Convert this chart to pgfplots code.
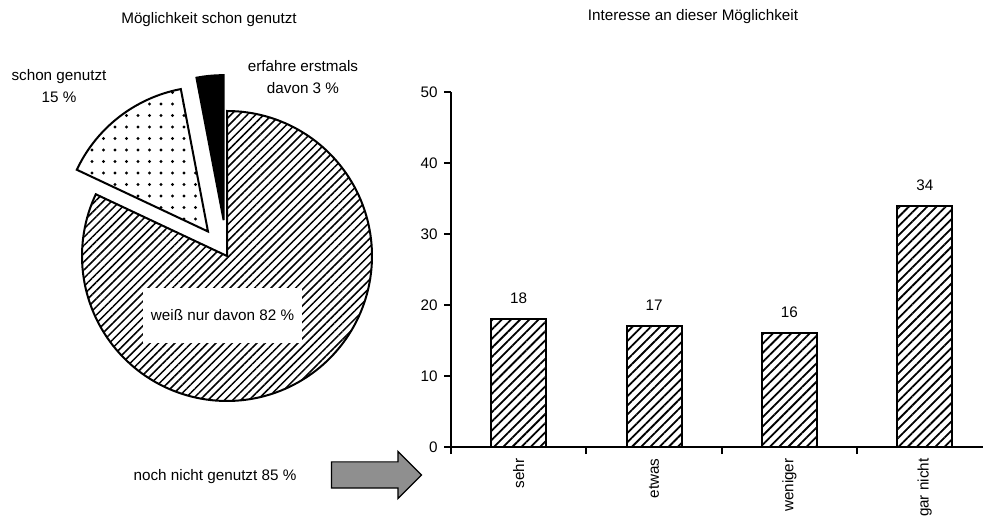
\documentclass[border=0pt]{standalone}
\usepackage{pgfplots}
\pgfplotsset{compat=1.18}
\usepackage{fontspec}
\setmainfont{Liberation Sans}
\usetikzlibrary{patterns.meta,shapes.arrows}
\definecolor{pfeilgrau}{RGB}{143,143,143}
\newcommand{\fs}{\fontsize{15.3}{22}\selectfont}

% Anteile Kreisdiagramm (in %)
\def\weiss{82}
\def\genutzt{15}
\def\erstmals{3}

\begin{document}
\begin{tikzpicture}[font=\fs]
% Winkel der Segmente
\pgfmathsetmacro{\aEnd}{90-3.6*\weiss}
\pgfmathsetmacro{\bEnd}{90+3.6*(\genutzt+\erstmals)}
\pgfmathsetmacro{\cEnd}{90+3.6*\erstmals}
\pgfmathsetmacro{\bMid}{(\bEnd+\cEnd)/2}
\pgfmathsetmacro{\cMid}{(90+\cEnd)/2}
% herausgeruckte Mittelpunkte
\pgfmathsetmacro{\bx}{227+31*cos(\bMid)}
\pgfmathsetmacro{\by}{262+31*sin(\bMid)}
\pgfmathsetmacro{\cx}{227+36*cos(\cMid)}
\pgfmathsetmacro{\cy}{262+36*sin(\cMid)}

% Kreisdiagramm, Koordinaten in Pixeln
\begin{axis}[at={(0,0)}, anchor=south west, scale only axis,
  width=983bp, height=518bp, xmin=0, xmax=983, ymin=0, ymax=518,
  hide axis, clip=false]
\addplot[draw=black, line width=2bp, line join=miter,
  pattern={Lines[angle=45,distance=5.8bp,line width=1.5bp]},
  domain=\aEnd:90, samples=150, variable=\t]
  ({227+145*cos(\t)},{262+145*sin(\t)}) -- (227,262) -- cycle;
\addplot[draw=black, line width=2bp,
  pattern={Dots[distance=11.5bp,radius=1.7bp]},
  domain=\cEnd:\bEnd, samples=40, variable=\t]
  ({\bx+145*cos(\t)},{\by+145*sin(\t)}) -- (\bx,\by) -- cycle;
\addplot[draw=black, line width=2bp, fill=black,
  domain=90:\cEnd, samples=10, variable=\t]
  ({\cx+145*cos(\t)},{\cy+145*sin(\t)}) -- (\cx,\cy) -- cycle;

\node[fill=white, minimum width=159bp, minimum height=55bp] at (222.5,202.5) {weiß nur davon 82 \%};
\node at (209,498) {Möglichkeit schon genutzt};
\node at (693,501) {Interesse an dieser Möglichkeit};
\node[align=center] at (59,432) {schon genutzt\\15 \%};
\node[align=center] at (303,441) {erfahre erstmals\\davon 3 \%};
\node at (215,41) {noch nicht genutzt 85 \%};
\node[single arrow, draw=black, line width=1.2bp, fill=pfeilgrau,
  minimum height=90bp, inner xsep=0pt, inner ysep=12.5bp,
  single arrow head extend=10.5bp] at (370,43) {};
\end{axis}

% Balkendiagramm
\begin{axis}[at={(451bp,71bp)}, anchor=south west, scale only axis,
  width=532bp, height=355bp, xmin=0, xmax=3.93, ymin=0, ymax=50,
  axis x line=bottom, axis y line=left,
  axis line style={-, line width=2bp},
  ybar, bar width=55bp, bar shift=0pt,
  ytick={0,10,...,50}, xtick={0,1,2,3}, xticklabels={,,,},
  extra x ticks={0.5,1.5,2.5,3.5},
  extra x tick labels={sehr,etwas,weniger,gar nicht},
  extra x tick style={major tick length=0pt,
    tick label style={rotate=90, anchor=east}},
  xticklabel shift=8bp, yticklabel shift=3bp,
  tick align=outside, major tick length=7bp,
  every tick/.style={black, line width=2bp},
  /pgf/number format/assume math mode=true,
  tick label style={font=\fs},
  nodes near coords, nodes near coords style={font=\fs, yshift=11bp},
  clip=false]
\addplot[draw=black, line width=2bp,
  pattern={Lines[angle=45,distance=6.5bp,line width=1.8bp]}]
  coordinates {(0.5,18) (1.5,17) (2.5,16) (3.5,34)};
\end{axis}
\pgfresetboundingbox
\useasboundingbox (0,0) rectangle (983bp,518bp);
\end{tikzpicture}
\end{document}
